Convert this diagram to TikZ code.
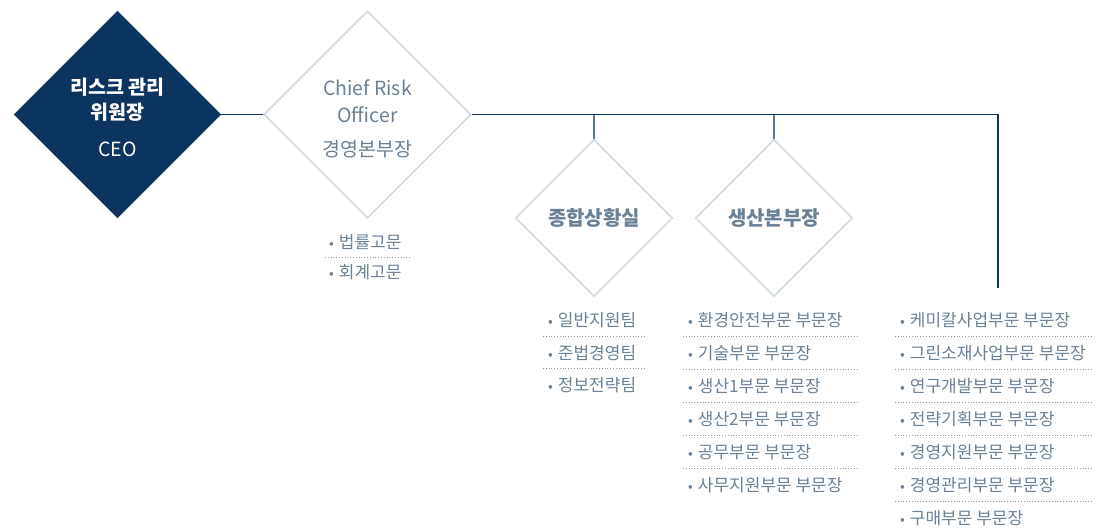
\documentclass[tikz,border=0pt]{standalone}
\usepackage{fontspec}
\setmainfont{Noto Sans CJK KR}
\usepackage{tikz}
\usetikzlibrary{positioning, calc, shapes.geometric}
\usepackage{xcolor}
\definecolor{navy}{HTML}{0B3560}
\definecolor{slate}{HTML}{6B8196}
\definecolor{pale}{HTML}{D2DAE0}
\definecolor{steel}{HTML}{5A7896}
\newcommand{\itm}[1]{{\fontsize{14}{14}\selectfont •}\hspace{5pt}#1}

\begin{document}
\begin{tikzpicture}[x=1pt, y=-1pt]
\tikzset{Head/.style={shape=diamond, fill=navy, draw=navy, minimum width=207, minimum height=207, inner sep=0pt, align=center, text=white}}
\tikzset{Unit/.style={shape=diamond, draw=pale, line width=1.6pt, fill=white, inner sep=0pt, align=center, text=slate}}
\tikzset{Item/.style={anchor=west, inner sep=0pt, text=slate, font=\fontsize{17}{20}\selectfont}}
\tikzset{Sep/.style={draw=slate!80, dotted, line width=0.8pt}}
\tikzset{Link/.style={draw=navy, line width=1.2pt}}
\useasboundingbox (0,0) rectangle (1096,528);

% nodes
\node[Head, font=\fontsize{19.5}{25}\selectfont] (ceo) at (117.5,114.5) {\rule{0pt}{23pt}\textbf{리스크 관리}\\\textbf{위원장}\\[12pt]CEO};
\node[Unit, minimum width=207, minimum height=207, font=\fontsize{19.5}{27}\selectfont] (cro) at (367.5,114.5) {\rule{0pt}{24pt}Chief Risk\\Officer\\[7pt]경영본부장};
\node[Unit, minimum width=157, minimum height=157, font=\fontsize{20}{22}\selectfont] (sit) at (594,218) {\textbf{종합상황실}};
\node[Unit, minimum width=157, minimum height=157, font=\fontsize{20}{22}\selectfont] (prod) at (774,218) {\textbf{생산본부장}};
\coordinate (rend) at (998,288);

% lists
\foreach \t [count=\i] in {법률고문, 회계고문}
  \node[Item] (adv\i) at (329, 212+30*\i) {\itm{\t}};
\draw[Sep] (325,257.5) -- (410,257.5);

\foreach \t [count=\i] in {일반지원팀, 준법경영팀, 정보전략팀}
  \node[Item] (sa\i) at (548, 288+32.5*\i) {\itm{\t}};
\foreach \i in {1,2}
  \draw[Sep] (543, 303.5+32.5*\i) -- (645, 303.5+32.5*\i);

\foreach \t [count=\i] in {환경안전부문 부문장, 기술부문 부문장, 생산1부문 부문장, 생산2부문 부문장, 공무부문 부문장, 사무지원부문 부문장}
  \node[Item] (pr\i) at (688, 287+33*\i) {\itm{\t}};
\foreach \i in {1,...,5}
  \draw[Sep] (683, 303+33*\i) -- (858, 303+33*\i);

\foreach \t [count=\i] in {케미칼사업부문 부문장, 그린소재사업부문 부문장, 연구개발부문 부문장, 전략기획부문 부문장, 경영지원부문 부문장, 경영관리부문 부문장, 구매부문 부문장}
  \node[Item] (rd\i) at (900, 287+33*\i) {\itm{\t}};
\foreach \i in {1,...,6}
  \draw[Sep] (895, 303+33*\i) -- (1093, 303+33*\i);

% arrows
\draw[Link] (ceo.east) -- (cro.west);
\draw[Link] (cro.east) -| (rend);
\draw[draw=steel, line width=1.5pt] (sit.north) -- (sit.north |- cro.east);
\draw[draw=steel, line width=1.5pt] (prod.north) -- (prod.north |- cro.east);
\end{tikzpicture}
\end{document}
